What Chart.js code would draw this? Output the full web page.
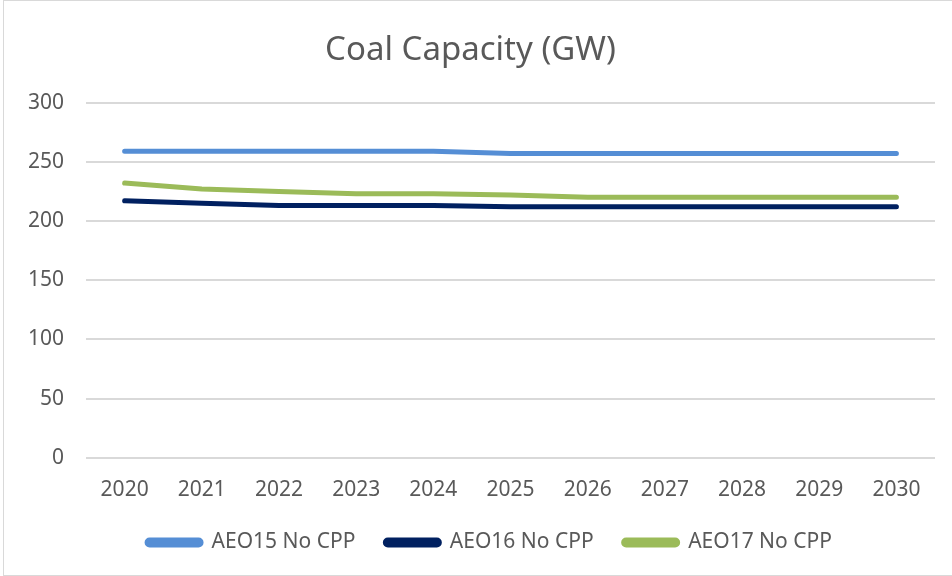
<!DOCTYPE html>
<html>
<head>
<meta charset="utf-8">
<script src="https://cdn.jsdelivr.net/npm/chart.js@4"></script>
<style>
  html, body { margin: 0; padding: 0; background: #fff; }
  #wrap { position: relative; width: 948px; height: 574px; margin-left: 3px; border: 1px solid #d9d9d9; border-right: none; }
</style>
</head>
<body>
<div id="wrap"><canvas id="LineChart" width="948" height="574"></canvas></div>
<script>
var years = ['2020','2021','2022','2023','2024','2025','2026','2027','2028','2029','2030'];
var aeo15 = [259, 259, 259, 259, 259, 257, 257, 257, 257, 257, 257];
var aeo16 = [217, 215, 213, 213, 213, 212, 212, 212, 212, 212, 212];
var aeo17 = [232, 227, 225, 223, 223, 222, 220, 220, 220, 220, 220];

var textColor = '#595959';
var fontFamily = "'Noto Sans', 'Open Sans', sans-serif";

function series(label, values, color){
	return {
		label: label,
		data: values,
		borderColor: color,
		backgroundColor: color,
		borderWidth: 5,
		borderCapStyle: 'round',
		borderJoinStyle: 'round',
		pointRadius: 0,
		tension: 0,
		fill: false
	};
}

// legend sits lower than its layout box would put it
var legendFix = {
	id: 'legendFix',
	beforeInit: function(chart){
		var fit = chart.legend.fit;
		chart.legend.fit = function(){
			fit.call(this);
			this.height = 60;
		};
	},
	afterLayout: function(chart){
		var lg = chart.legend;
		lg.top = 501;
		lg.left += 19;
		lg.right += 19;
	}
};

new Chart(document.getElementById('LineChart'), {
	type: 'line',
	data: {
		labels: years,
		datasets: [
			series('AEO15 No CPP', aeo15, '#558ed5'),
			series('AEO16 No CPP', aeo16, '#002060'),
			series('AEO17 No CPP', aeo17, '#9bbb59')
		]
	},
	options: {
		responsive: false,
		animation: false,
		layout: { padding: { left: 2, right: 17, top: 10, bottom: 0 } },
		plugins: {
			title: {
				display: true,
				text: 'Coal Capacity (GW)',
				color: textColor,
				font: { family: fontFamily, size: 33, weight: 'normal' },
				padding: { top: 20, bottom: 32 }
			},
			legend: {
				position: 'bottom',
				labels: {
					color: textColor,
					font: { family: fontFamily, size: 21 },
					boxWidth: 54,
					boxHeight: 5,
					useBorderRadius: true,
					borderRadius: 2.5,
					padding: 30
				}
			},
			tooltip: { enabled: false }
		},
		scales: {
			x: {
				offset: true,
				grid: { display: false },
				border: { display: false },
				ticks: { color: textColor, font: { family: fontFamily, size: 21 }, padding: 12 }
			},
			y: {
				min: 0,
				max: 300,
				ticks: { stepSize: 50, color: textColor, font: { family: fontFamily, size: 21 }, padding: 22 },
				grid: { color: '#d9d9d9', lineWidth: 2, drawTicks: false },
				border: { display: false }
			}
		}
	},
	plugins: [legendFix]
});
</script>
</body>
</html>
